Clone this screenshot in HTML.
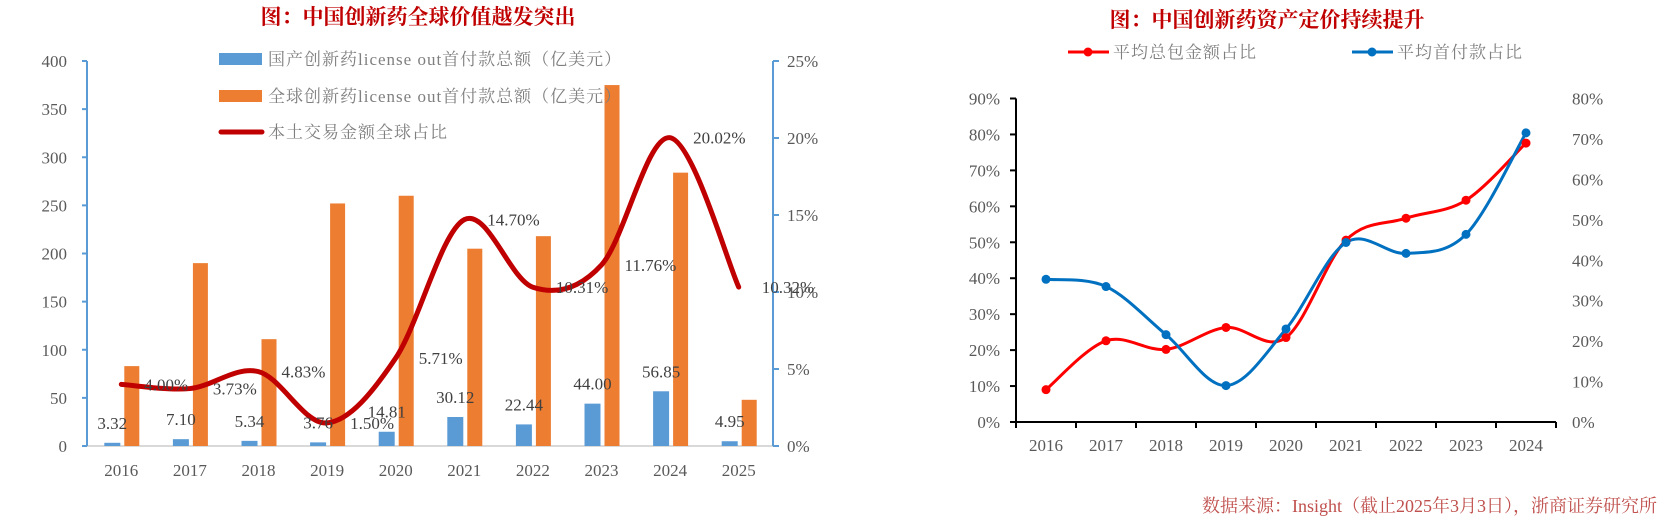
<!DOCTYPE html>
<html><head><meta charset="utf-8">
<style>
html,body{margin:0;padding:0;background:#fff;}
svg{display:block;}
text{font-family:"Liberation Serif","Noto Serif CJK SC",serif;}
</style></head>
<body>
<svg id="root" width="1675" height="528" viewBox="0 0 1675 528" xmlns="http://www.w3.org/2000/svg">
<g id="left"></g>
<g id="right"></g>
<text x="1657" y="512" text-anchor="end" font-size="18" fill="#c0504d">数据来源：Insight（截止2025年3月3日），浙商证券研究所</text>
</svg>
<script>
const years1 = ['2016','2017','2018','2019','2020','2021','2022','2023','2024','2025'];
const domestic = [3.32,7.10,5.34,3.76,14.81,30.12,22.44,44.00,56.85,4.95];
const domesticLabels = ['3.32','7.10','5.34','3.76','14.81','30.12','22.44','44.00','56.85','4.95'];
const globalTotal = [83,190,111,252,260,205,218,375,284,48];
const share = [4.00,3.73,4.83,1.50,5.71,14.70,10.31,11.76,20.02,10.32];
const shareLabels = ['4.00%','3.73%','4.83%','1.50%','5.71%','14.70%','10.31%','11.76%','20.02%','10.32%'];
const leftTicks = [0,50,100,150,200,250,300,350,400];
const rightTicks1 = [0,5,10,15,20,25];

const years2 = ['2016','2017','2018','2019','2020','2021','2022','2023','2024'];
const totalShare = [9.0,22.6,20.2,26.3,23.5,50.6,56.7,61.7,77.6];
const upfrontShare = [35.3,33.5,21.6,9.0,23.0,44.4,41.7,46.4,71.5];
const ticks2L = [0,10,20,30,40,50,60,70,80,90];
const ticks2R = [0,10,20,30,40,50,60,70,80];

const NS='http://www.w3.org/2000/svg';
function mk(parent, tag, attrs, txt){const e=document.createElementNS(NS,tag);for(const k in attrs)e.setAttribute(k,attrs[k]);if(txt!==undefined)e.textContent=txt;parent.appendChild(e);return e;}
function smooth(pts){let d='M'+pts[0][0]+','+pts[0][1];for(let i=0;i<pts.length-1;i++){const p0=pts[i-1]||pts[i],p1=pts[i],p2=pts[i+1],p3=pts[i+2]||p2;const c1x=p1[0]+(p2[0]-p0[0])/6,c1y=p1[1]+(p2[1]-p0[1])/6,c2x=p2[0]-(p3[0]-p1[0])/6,c2y=p2[1]-(p3[1]-p1[1])/6;d+=' C'+c1x+','+c1y+' '+c2x+','+c2y+' '+p2[0]+','+p2[1];}return d;}

// ---------- Left chart ----------
(function(){
const g=document.getElementById('left');
const X0=87,X1=773,Y0=446,Y1=61;
const bw=(X1-X0)/years1.length;
const xc=i=>X0+bw*(i+0.5);
const yL=v=>Y0-(v/400)*(Y0-Y1);
const yR=v=>Y0-(v/25)*(Y0-Y1);
let t=mk(g,'text',{x:418,y:24,'text-anchor':'middle','font-size':21,'font-weight':'bold',fill:'#c00000'},'图：中国创新药全球价值越发突出');


// axes
let a=mk(g,'line',{x1:X0,y1:Y0,x2:X1,y2:Y0,stroke:'#d9d9d9','stroke-width':2});


a=mk(g,'line',{x1:X0,y1:Y1,x2:X0,y2:Y0,stroke:'#5b9bd5','stroke-width':2});


a=mk(g,'line',{x1:X1,y1:Y1,x2:X1,y2:Y0,stroke:'#5b9bd5','stroke-width':2});


leftTicks.forEach(v=>{const y=yL(v);mk(g,'line',{x1:X0-5,y1:y,x2:X0,y2:y,stroke:'#5b9bd5','stroke-width':2});
 const l=mk(g,'text',{x:X0-20,y:y+6,'text-anchor':'end','font-size':17,fill:'#595959'},String(v));
 
 });
rightTicks1.forEach(v=>{const y=yR(v);mk(g,'line',{x1:X1,y1:y,x2:X1+6,y2:y,stroke:'#5b9bd5','stroke-width':2});
 const l=mk(g,'text',{x:X1+14,y:y+6,'font-size':17,fill:'#595959'},v+'%');
 
 });
years1.forEach((yr,i)=>{const l=mk(g,'text',{x:xc(i),y:476,'text-anchor':'middle','font-size':17,fill:'#595959'},yr);
 
 });
// bars
domestic.forEach((v,i)=>{const r=mk(g,'rect',{x:xc(i)-17,y:yL(v),width:16,height:Y0-yL(v),fill:'#5b9bd5'});
 
 });
globalTotal.forEach((v,i)=>{const r=mk(g,'rect',{x:xc(i)+3,y:yL(v),width:15,height:Y0-yL(v),fill:'#ed7d31'});
 
 });
// line
const pts=share.map((v,i)=>[xc(i),yR(v)]);
const p=mk(g,'path',{d:smooth(pts),fill:'none',stroke:'#c00000','stroke-width':5,'stroke-linecap':'round'});


domestic.forEach((v,i)=>{const l=mk(g,'text',{x:xc(i)-9,y:yL(v)-14,'text-anchor':'middle','font-size':17,fill:'#404040'},domesticLabels[i]);
 
 });
share.forEach((v,i)=>{const l=mk(g,'text',{x:xc(i)+23,y:yR(v)+6,'font-size':17,fill:'#404040'},shareLabels[i]);
 
 });
// legend
const leg=[['rect','#5b9bd5','国产创新药license out首付款总额（亿美元）',59],['rect','#ed7d31','全球创新药license out首付款总额（亿美元）',96],['line','#c00000','本土交易金额全球占比',132]];
leg.forEach((it,k)=>{
 if(it[0]==='rect'){mk(g,'rect',{x:219,y:it[3]-6,width:43,height:12,fill:it[1]});}
 else{mk(g,'line',{x1:221,y1:it[3],x2:262,y2:it[3],stroke:it[1],'stroke-width':5,'stroke-linecap':'round'});}
 const l=mk(g,'text',{x:268,y:it[3]+6,'font-size':17,fill:'#7f7f7f','letter-spacing':1},it[2]);
 
 
});
})();

// ---------- Right chart ----------
(function(){
const g=document.getElementById('right');
const X0=1016,X1=1556,Y0=422,Y1=98.5;
const bw=(X1-X0)/years2.length;
const xc=i=>X0+bw*(i+0.5);
const yL=v=>Y0-(v/90)*(Y0-Y1);
const yR=v=>Y0-(v/80)*(Y0-Y1);
let t=mk(g,'text',{x:1267,y:27,'text-anchor':'middle','font-size':21,'font-weight':'bold',fill:'#c00000'},'图：中国创新药资产定价持续提升');


let a=mk(g,'line',{x1:X0,y1:Y1,x2:X0,y2:Y0,stroke:'#000','stroke-width':2});


a=mk(g,'line',{x1:X0,y1:Y0,x2:X1,y2:Y0,stroke:'#000','stroke-width':2});


ticks2L.forEach(v=>{const y=yL(v);mk(g,'line',{x1:X0-6,y1:y,x2:X0,y2:y,stroke:'#000','stroke-width':2});
 const l=mk(g,'text',{x:1000,y:y+6,'text-anchor':'end','font-size':17,fill:'#595959'},v+'%');
 
 });
ticks2R.forEach(v=>{const y=yR(v);
 const l=mk(g,'text',{x:1572,y:y+6,'font-size':17,fill:'#595959'},v+'%');
 
 });
for(let i=0;i<=years2.length;i++){const x=X0+bw*i;mk(g,'line',{x1:x,y1:Y0,x2:x,y2:Y0+6,stroke:'#000','stroke-width':2});}
years2.forEach((yr,i)=>{const l=mk(g,'text',{x:xc(i),y:451,'text-anchor':'middle','font-size':17,fill:'#595959'},yr);
 
 });
const s1=totalShare.map((v,i)=>[xc(i),yL(v)]);
const s2=upfrontShare.map((v,i)=>[xc(i),yR(v)]);
let p=mk(g,'path',{d:smooth(s1),fill:'none',stroke:'#ff0000','stroke-width':3});


p=mk(g,'path',{d:smooth(s2),fill:'none',stroke:'#0070c0','stroke-width':3});


s1.forEach(q=>{const c=mk(g,'circle',{cx:q[0],cy:q[1],r:4.5,fill:'#ff0000'});
 
 });
s2.forEach(q=>{const c=mk(g,'circle',{cx:q[0],cy:q[1],r:4.5,fill:'#0070c0'});
 
 });
const leg=[[1068,'#ff0000','平均总包金额占比'],[1352,'#0070c0','平均首付款占比']];
leg.forEach(it=>{mk(g,'line',{x1:it[0],y1:52,x2:it[0]+41,y2:52,stroke:it[1],'stroke-width':3});
 mk(g,'circle',{cx:it[0]+20,cy:52,r:4.5,fill:it[1]});
 const l=mk(g,'text',{x:it[0]+45,y:58,'font-size':17,fill:'#7f7f7f','letter-spacing':1},it[2]);
 
 });
})();
</script>
</body></html>
